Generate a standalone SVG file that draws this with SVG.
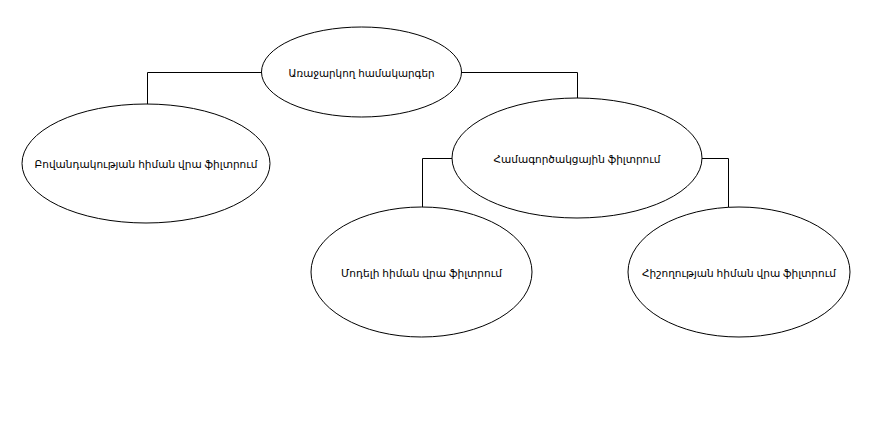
<svg xmlns="http://www.w3.org/2000/svg" width="869" height="421" viewBox="0 0 869 421">
<style>
.n{fill:#fff;stroke:#000;stroke-width:1}
.c{fill:none;stroke:#000;stroke-width:1}
text{font-family:"Liberation Sans","DejaVu Sans",sans-serif;font-size:11px;fill:#000;text-anchor:middle;dominant-baseline:central}
</style>
<rect width="869" height="421" fill="#fff"/>
<g id="connectors">
<path class="c" d="M262 72.5H147.5V104"/>
<path class="c" d="M461 72.5H577.5V98"/>
<path class="c" d="M452 158.5H422.5V207"/>
<path class="c" d="M702 158.5H728.5V207"/>
</g>
<g id="root"><ellipse class="n" cx="361.5" cy="72" rx="100" ry="45"/><text x="361.5" y="73" textLength="146" lengthAdjust="spacingAndGlyphs">Առաջարկող համակարգեր</text></g>
<g id="content"><ellipse class="n" cx="146" cy="163.5" rx="124" ry="59.5"/><text x="146" y="164" textLength="223" lengthAdjust="spacingAndGlyphs">Բովանդակության հիման վրա ֆիլտրում</text></g>
<g id="collab"><ellipse class="n" cx="577" cy="158" rx="125" ry="60"/><text x="577" y="159" textLength="167" lengthAdjust="spacingAndGlyphs">Համագործակցային ֆիլտրում</text></g>
<g id="model"><ellipse class="n" cx="421.5" cy="272" rx="110.5" ry="65"/><text x="421.5" y="273" textLength="161" lengthAdjust="spacingAndGlyphs">Մոդելի հիման վրա ֆիլտրում</text></g>
<g id="memory"><ellipse class="n" cx="739" cy="272" rx="111" ry="65"/><text x="739" y="273" textLength="194" lengthAdjust="spacingAndGlyphs">Հիշողության հիման վրա ֆիլտրում</text></g>
</svg>
